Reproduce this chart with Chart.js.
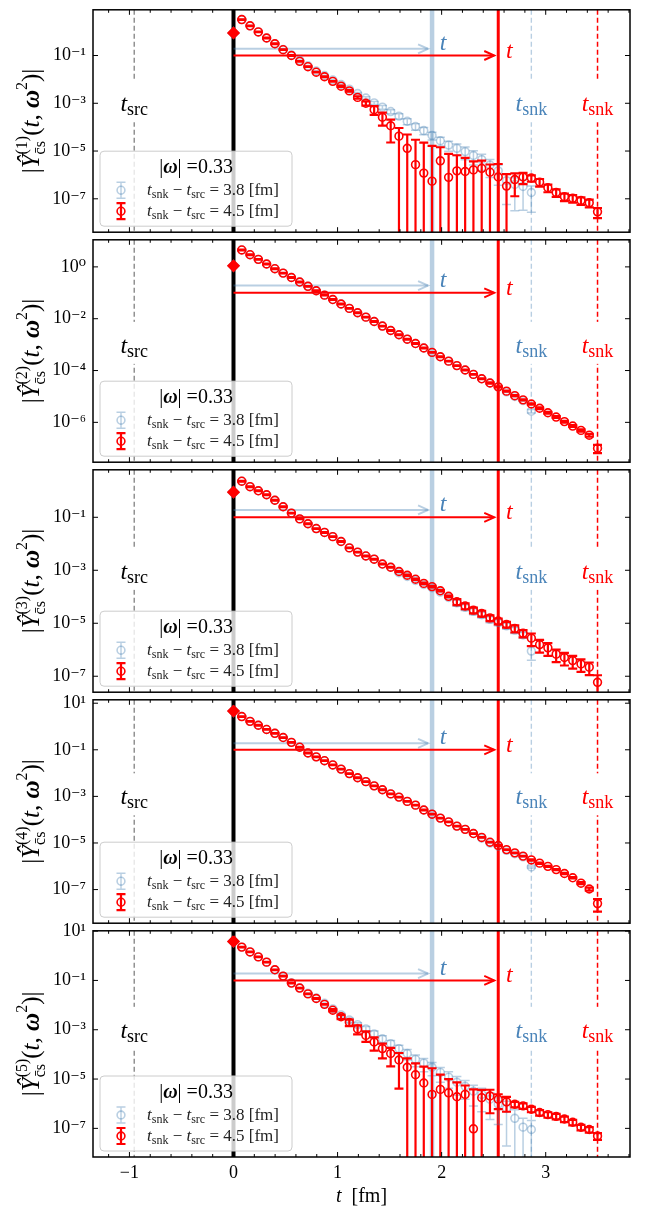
<!DOCTYPE html>
<html>
<head>
<meta charset="utf-8">
<script src="https://cdn.jsdelivr.net/npm/chart.js@4.4.1/dist/chart.umd.min.js"></script>
<style>
  html, body { margin: 0; padding: 0; background: #fff; }
  #wrap { position: relative; width: 646px; height: 1211px; overflow: hidden; }
  #wrap canvas { position: absolute; left: 0; }
</style>
</head>
<body>
<div id="wrap"></div>
<script>
// lattice spacing (fm) and time slices
const A_FM = 0.0795;
const slicesRed = [0,1,2,3,4,5,6,7,8,9,10,11,12,13,14,15,16,17,18,19,20,21,22,23,24,25,26,27,28,29,30,31,32,33,34,35,36,37,38,39,40,41,42,43,44];
const slicesBlue = [0,1,2,3,4,5,6,7,8,9,10,11,12,13,14,15,16,17,18,19,20,21,22,23,24,25,26,27,28,29,30,31,32,33,34,35,36];
const tSrc = -12, tSnkBlue = 36, tSnkRed = 44, tInsBlue = 24, tInsRed = 32;
const arrowBlueY = 0.19, arrowRedY = 0.1, snkLabelY = 7.5e-4;

const xMajor = [-1, 0, 1, 2, 3];
const legendTitle = '0.33';
const legendSep = ['3.8', '4.5'];

// panel 1
const y1Red = [0.88, 3.2, 1.75, 0.97, 0.54, 0.31, 0.175, 0.10, 0.057, 0.034,
  0.020, 0.0129, 8.3e-3, 5.2e-3, 3.3e-3, 1.76e-3, 1.0e-3, 5.4e-4, 2.6e-4, 1.14e-4,
  4.2e-5, 1.3e-5, 2.7e-6, 1.19e-6, 5.5e-7, 3.9e-6, 7.9e-7, 1.48e-6, 1.39e-6, 1.62e-6,
  1.89e-6, 1.30e-6, 8.2e-7, 3.4e-7, 6.4e-7, 8.2e-7, 7.4e-7, 5.0e-7, 2.9e-7, 1.84e-7,
  1.23e-7, 1.05e-7, 8.5e-8, 6.8e-8, 2.85e-8];
const e1Red = [0.05,0.03,0.03,0.03,0.03,0.03,0.03,0.03,0.03,0.03,
  0.03,0.03,0.03,0.06,0.08,0.12,0.2,0.4,0.55,0.8,
  1.2,2.8,10,18,29,2.7,8.7,3.5,2.7,1.3,
  1.1,1.1,2.5,2.2,0.8,0.5,0.3,0.35,0.35,0.35,
  0.35,0.35,0.35,0.35,0.45];
const y1Blue = [0.88, 3.2, 1.75, 0.97, 0.54, 0.31, 0.18, 0.106, 0.063, 0.037,
  0.0225, 0.0146, 9.4e-3, 6.1e-3, 3.9e-3, 2.56e-3, 1.66e-3, 1.04e-3, 6.9e-4, 4.5e-4,
  2.9e-4, 1.77e-4, 1.07e-4, 7.2e-5, 4.5e-5, 2.7e-5, 1.77e-5, 1.30e-5, 9.5e-6, 6.5e-6,
  4.4e-6, 2.6e-6, 1.48e-6, 5.8e-7, 4.0e-7, 3.3e-7, 1.84e-7];
const e1Blue = [0.05,0.03,0.03,0.03,0.03,0.03,0.03,0.03,0.03,0.03,
  0.03,0.03,0.03,0.05,0.07,0.1,0.12,0.15,0.18,0.2,
  0.25,0.28,0.3,0.33,0.35,0.4,0.45,0.5,0.55,0.6,
  0.65,0.7,0.75,0.9,0.92,0.9,0.85];

// panel 2
const y2Red = [1.1, 4.5, 2.95, 1.95, 1.29, 0.85, 0.575, 0.39, 0.26, 0.178,
  0.12, 0.081, 0.055, 0.037, 0.025, 0.017, 0.0115, 7.8e-3, 5.2e-3, 3.5e-3,
  2.4e-3, 1.62e-3, 1.1e-3, 7.4e-4, 5.0e-4, 3.4e-4, 2.3e-4, 1.55e-4, 1.05e-4, 7.1e-5,
  4.8e-5, 3.3e-5, 2.35e-5, 1.6e-5, 1.07e-5, 7.4e-6, 5.1e-6, 3.5e-6, 2.35e-6, 1.6e-6,
  1.07e-6, 7.2e-7, 4.9e-7, 3.2e-7, 1.0e-7];
const e2Red = [0.05,0.03,0.03,0.03,0.03,0.03,0.03,0.03,0.03,0.03,
  0.03,0.03,0.03,0.03,0.03,0.03,0.03,0.03,0.03,0.03,
  0.03,0.03,0.03,0.03,0.03,0.03,0.03,0.03,0.03,0.03,
  0.03,0.05,0.05,0.05,0.05,0.05,0.05,0.08,0.08,0.08,
  0.08,0.08,0.1,0.12,0.35];
const y2Blue = [1.1, 4.5, 2.95, 1.95, 1.29, 0.85, 0.575, 0.39, 0.26, 0.178,
  0.12, 0.081, 0.055, 0.037, 0.025, 0.017, 0.0115, 7.8e-3, 5.2e-3, 3.5e-3,
  2.4e-3, 1.62e-3, 1.1e-3, 7.4e-4, 5.0e-4, 3.4e-4, 2.3e-4, 1.55e-4, 1.05e-4, 7.1e-5,
  4.8e-5, 3.3e-5, 2.35e-5, 1.5e-5, 1.0e-5, 6.9e-6, 2.7e-6];
const e2Blue = [0.05,0.03,0.03,0.03,0.03,0.03,0.03,0.03,0.03,0.03,
  0.03,0.03,0.03,0.03,0.03,0.03,0.03,0.03,0.03,0.03,
  0.03,0.03,0.03,0.03,0.03,0.03,0.03,0.03,0.03,0.03,
  0.03,0.03,0.03,0.05,0.05,0.05,0.15];

// panel 3
const y3Red = [0.89, 2.3, 1.43, 1.0, 0.71, 0.44, 0.25, 0.144, 0.087, 0.057,
  0.0375, 0.0268, 0.0186, 0.0122, 6.98e-3, 4.85e-3, 3.47e-3, 2.62e-3, 1.72e-3, 1.30e-3,
  9.0e-4, 6.5e-4, 4.6e-4, 3.2e-4, 2.42e-4, 1.68e-4, 1.04e-4, 6.5e-5, 4.5e-5, 3.13e-5,
  2.37e-5, 1.60e-5, 1.21e-5, 9.1e-6, 6.4e-6, 4.2e-6, 2.74e-6, 1.57e-6, 1.18e-6, 6.8e-7,
  5.1e-7, 3.9e-7, 2.9e-7, 2.2e-7, 5.9e-8];
const e3Red = [0.05,0.03,0.03,0.03,0.03,0.03,0.03,0.03,0.03,0.03,
  0.03,0.03,0.03,0.03,0.03,0.03,0.03,0.03,0.03,0.03,
  0.03,0.06,0.06,0.06,0.06,0.06,0.06,0.25,0.25,0.25,
  0.25,0.25,0.25,0.25,0.3,0.3,0.5,0.5,0.5,0.5,
  0.5,0.5,0.5,0.5,0.85];
const y3Blue = [0.89, 2.3, 1.43, 1.0, 0.71, 0.44, 0.25, 0.144, 0.087, 0.057,
  0.0375, 0.0268, 0.0186, 0.0122, 6.98e-3, 4.85e-3, 3.47e-3, 2.62e-3, 1.72e-3, 1.30e-3,
  8.1e-4, 5.8e-4, 4.1e-4, 2.9e-4, 2.2e-4, 1.5e-4, 9.4e-5, 5.9e-5, 4.0e-5, 2.8e-5,
  2.1e-5, 1.4e-5, 1.08e-5, 8.0e-6, 5.5e-6, 3.6e-6, 8.9e-7];
const e3Blue = [0.05,0.03,0.03,0.03,0.03,0.03,0.03,0.03,0.03,0.03,
  0.03,0.03,0.03,0.03,0.03,0.03,0.03,0.03,0.03,0.03,
  0.06,0.06,0.06,0.06,0.06,0.06,0.06,0.25,0.25,0.25,
  0.25,0.25,0.25,0.25,0.25,0.25,0.55];

// panel 4
const y4Red = [4.6, 2.67, 1.66, 1.13, 0.746, 0.51, 0.336, 0.209, 0.129, 0.073,
  0.0498, 0.034, 0.0224, 0.0148, 9.5e-3, 6.3e-3, 4.3e-3, 2.83e-3, 1.93e-3, 1.28e-3,
  9.3e-4, 6.1e-4, 4.2e-4, 2.6e-4, 1.72e-4, 1.17e-4, 8.0e-5, 5.3e-5, 3.85e-5, 2.54e-5,
  1.73e-5, 1.08e-5, 7.8e-6, 5.2e-6, 3.76e-6, 2.74e-6, 1.87e-6, 1.36e-6, 9.9e-7, 7.2e-7,
  4.9e-7, 3.2e-7, 1.88e-7, 1.06e-7, 2.5e-8];
const e4Red = [0.05,0.03,0.03,0.03,0.03,0.03,0.03,0.03,0.03,0.03,
  0.03,0.03,0.03,0.03,0.03,0.03,0.03,0.03,0.03,0.03,
  0.03,0.03,0.03,0.03,0.03,0.03,0.03,0.03,0.03,0.03,
  0.03,0.03,0.03,0.03,0.03,0.03,0.06,0.06,0.06,0.06,
  0.06,0.06,0.1,0.15,0.55];
const y4Blue = [4.6, 2.67, 1.66, 1.13, 0.746, 0.51, 0.336, 0.209, 0.129, 0.073,
  0.0498, 0.034, 0.0224, 0.0148, 9.5e-3, 6.3e-3, 4.3e-3, 2.83e-3, 1.93e-3, 1.28e-3,
  9.3e-4, 6.1e-4, 4.2e-4, 2.6e-4, 1.72e-4, 1.17e-4, 8.0e-5, 5.3e-5, 3.85e-5, 2.54e-5,
  1.59e-5, 9.9e-6, 7.2e-6, 4.8e-6, 3.46e-6, 2.52e-6, 9.3e-7];
const e4Blue = [0.05,0.03,0.03,0.03,0.03,0.03,0.03,0.03,0.03,0.03,
  0.03,0.03,0.03,0.03,0.03,0.03,0.03,0.03,0.03,0.03,
  0.03,0.03,0.03,0.03,0.03,0.03,0.03,0.03,0.03,0.03,
  0.03,0.03,0.03,0.03,0.03,0.03,0.1];

// panel 5
const y5Red = [3.8, 2.25, 1.43, 0.90, 0.55, 0.27, 0.15, 0.078, 0.049, 0.0284,
  0.0185, 0.0107, 6.2e-3, 3.35e-3, 1.99e-3, 1.08e-3, 5.9e-4, 3.18e-4, 1.72e-4, 1.09e-4,
  5.9e-5, 3.0e-5, 1.49e-5, 6.9e-6, 2.38e-6, 3.8e-6, 2.77e-6, 1.92e-6, 2.38e-6, 9.6e-8,
  1.75e-6, 2.05e-6, 1.51e-6, 1.18e-6, 9.5e-7, 8.2e-7, 6.0e-7, 4.4e-7, 3.6e-7, 3.07e-7,
  2.4e-7, 1.77e-7, 1.11e-7, 9.0e-8, 4.9e-8];
const e5Red = [0.05,0.03,0.03,0.03,0.03,0.03,0.03,0.03,0.03,0.03,
  0.03,0.03,0.1,0.2,0.3,0.4,0.45,0.55,0.6,0.7,
  0.93,1.3,1.9,3.6,10.5,3,2.6,2.8,1.3,39,
  1.1,0.8,0.6,0.6,0.25,0.25,0.25,0.25,0.25,0.25,
  0.25,0.25,0.25,0.25,0.3];
const y5Blue = [3.8, 2.25, 1.43, 0.90, 0.55, 0.27, 0.15, 0.08, 0.05, 0.03,
  0.0195, 0.0118, 7.0e-3, 4.0e-3, 2.47e-3, 1.61e-3, 1.08e-3, 6.8e-4, 4.3e-4, 2.72e-4,
  1.72e-4, 1.09e-4, 6.3e-5, 4.4e-5, 3.0e-5, 1.85e-5, 1.2e-5, 7.4e-6, 5.1e-6, 3.2e-6,
  2.38e-6, 1.51e-6, 9.5e-7, 6.4e-7, 2.56e-7, 1.12e-7, 9.0e-8];
const e5Blue = [0.05,0.03,0.03,0.03,0.03,0.03,0.03,0.03,0.03,0.03,
  0.03,0.03,0.03,0.15,0.18,0.2,0.25,0.3,0.33,0.35,
  0.38,0.45,0.5,0.55,0.55,0.6,0.65,0.7,0.7,0.75,
  0.8,0.85,0.85,0.97,1.2,1.3,1.3];

const panels = [
  { n: '1', red: y1Red, redErr: e1Red, blue: y1Blue, blueErr: e1Blue, ymin: 4.0e-9, ymax: 8.2, labeled: [-1, -3, -5, -7] },
  { n: '2', red: y2Red, redErr: e2Red, blue: y2Blue, blueErr: e2Blue, ymin: 2.9e-8, ymax: 11.1, labeled: [0, -2, -4, -6] },
  { n: '3', red: y3Red, redErr: e3Red, blue: y3Blue, blueErr: e3Blue, ymin: 2.5e-8, ymax: 6.2, labeled: [-1, -3, -5, -7] },
  { n: '4', red: y4Red, redErr: e4Red, blue: y4Blue, blueErr: e4Blue, ymin: 3.6e-9, ymax: 14, labeled: [1, -1, -3, -5, -7] },
  { n: '5', red: y5Red, redErr: e5Red, blue: y5Blue, blueErr: e5Blue, ymin: 6.9e-9, ymax: 10.3, labeled: [1, -1, -3, -5, -7] }
];

const SERIF = '"Liberation Serif", "DejaVu Serif", serif';
const RED = '#ff0000';
const BLUE_MARK = 'rgba(70,130,180,0.38)';
const BLUE_TEXT = '#4a84b9';
const GRAY = '#808080';
const panelTop = [6, 236, 466, 696, 927];
const panelBottom = [236, 466, 696, 927, 1157];
const PAD = 14;

const SUP = { '-': '\u207B', '0': '\u2070', '1': '\u00B9', '2': '\u00B2', '3': '\u00B3', '4': '\u2074', '5': '\u2075', '6': '\u2076', '7': '\u2077', '8': '\u2078', '9': '\u2079' };
function powLabel(e) { return '10' + String(e).split('').map(c => SUP[c]).join(''); }

// text made of runs with different size / style / offset
function layoutRuns(ctx, runs) {
  let x = 0, prevStart = 0, prevW = 0;
  const pos = [];
  runs.forEach(r => {
    ctx.font = `${r.st || ''} ${r.px}px ${SERIF}`;
    const w = ctx.measureText(r.s).width;
    if (r.stack) {
      pos.push(prevStart);
      prevW = Math.max(prevW, w);
      x = prevStart + prevW;
    } else {
      pos.push(x); prevStart = x; prevW = w; x += w;
    }
  });
  return { pos, width: x };
}
function drawRuns(ctx, runs, x, y, align, color) {
  const L = layoutRuns(ctx, runs);
  const x0 = align === 'center' ? x - L.width / 2 : (align === 'right' ? x - L.width : x);
  ctx.fillStyle = color || '#000';
  ctx.textAlign = 'left';
  ctx.textBaseline = 'alphabetic';
  runs.forEach((r, i) => {
    ctx.font = `${r.st || ''} ${r.px}px ${SERIF}`;
    ctx.fillText(r.s, x0 + L.pos[i], y + (r.dy || 0));
  });
  return L.width;
}
const tSub = sub => [{ s: 't', px: 24, st: 'italic' }, { s: sub, px: 18, dy: 4 }];

function errMarker(ctx, x, y, color, lw) {
  ctx.strokeStyle = color; ctx.lineWidth = lw;
  ctx.beginPath();
  ctx.moveTo(x, y - 8); ctx.lineTo(x, y + 8);
  ctx.moveTo(x - 4.5, y - 8); ctx.lineTo(x + 4.5, y - 8);
  ctx.moveTo(x - 4.5, y + 8); ctx.lineTo(x + 4.5, y + 8);
  ctx.stroke();
  ctx.lineWidth = 1.6;
  ctx.beginPath(); ctx.arc(x, y, 3.9, 0, Math.PI * 2); ctx.stroke();
}

function makeDecor(p, idx, isLast) {
  return {
    id: 'decor' + idx,
    beforeDatasetsDraw(chart) {
      const { ctx, chartArea: ca, scales: { x, y } } = chart;
      ctx.save();
      ctx.beginPath(); ctx.rect(ca.left, ca.top, ca.right - ca.left, ca.bottom - ca.top); ctx.clip();
      const vline = (t, color, lw, dash) => {
        const px = x.getPixelForValue(t);
        ctx.strokeStyle = color; ctx.lineWidth = lw; ctx.setLineDash(dash || []);
        ctx.beginPath(); ctx.moveTo(px, ca.top); ctx.lineTo(px, ca.bottom); ctx.stroke();
      };
      vline(tSrc * A_FM, GRAY, 1.3, [5, 3]);
      vline(tSnkBlue * A_FM, BLUE_MARK, 1.4, [5, 3]);
      vline(tSnkRed * A_FM, RED, 1.5, [5, 3]);
      vline(0, '#000', 4);
      vline(tInsBlue * A_FM, BLUE_MARK, 4.5);
      vline(tInsRed * A_FM, RED, 3);
      ctx.setLineDash([]);

      const arrow = (tEnd, val, color, lw) => {
        const x0 = x.getPixelForValue(0), x1 = x.getPixelForValue(tEnd) - 4, py = y.getPixelForValue(val);
        ctx.strokeStyle = color; ctx.lineWidth = lw;
        ctx.beginPath(); ctx.moveTo(x0, py); ctx.lineTo(x1, py); ctx.stroke();
        ctx.beginPath(); ctx.moveTo(x1 - 10, py - 4.5); ctx.lineTo(x1, py); ctx.lineTo(x1 - 10, py + 4.5); ctx.stroke();
      };
      arrow(tInsBlue * A_FM, arrowBlueY, BLUE_MARK, 2);
      arrow(tInsRed * A_FM, arrowRedY, RED, 2);

      // t labels next to the insertion lines
      drawRuns(ctx, [{ s: 't', px: 24, st: 'italic' }], x.getPixelForValue(tInsBlue * A_FM) + 11, y.getPixelForValue(arrowBlueY) + 1, 'center', BLUE_TEXT);
      drawRuns(ctx, [{ s: 't', px: 24, st: 'italic' }], x.getPixelForValue(tInsRed * A_FM) + 11, y.getPixelForValue(arrowRedY) + 2, 'center', RED);

      // source / sink labels on white boxes
      const ly = y.getPixelForValue(snkLabelY);
      const boxLabel = (t, sub, color) => {
        const px = x.getPixelForValue(t);
        ctx.fillStyle = '#fff';
        ctx.fillRect(px - 20, ly - 26, 40, 42);
        drawRuns(ctx, tSub(sub), px, ly + 5, 'center', color);
      };
      boxLabel(tSrc * A_FM, 'src', '#000');
      boxLabel(tSnkBlue * A_FM, 'snk', BLUE_TEXT);
      boxLabel(tSnkRed * A_FM, 'snk', RED);
      ctx.restore();
    },
    beforeDatasetDraw(chart, args) {
      const { ctx, chartArea: ca, scales: { y } } = chart;
      const ds = chart.data.datasets[args.index];
      ctx.save();
      ctx.beginPath(); ctx.rect(ca.left, ca.top, ca.right - ca.left, ca.bottom - ca.top); ctx.clip();
      ctx.strokeStyle = ds.borderColor; ctx.lineWidth = ds.errWidth;
      args.meta.data.forEach((pt, i) => {
        const d = ds.data[i];
        const hi = y.getPixelForValue(d.y + d.e);
        const lowVal = d.y - d.e;
        const lo = lowVal > 0 ? y.getPixelForValue(lowVal) : ca.bottom + 10;
        ctx.beginPath();
        ctx.moveTo(pt.x, hi); ctx.lineTo(pt.x, lo);
        ctx.moveTo(pt.x - 4.5, hi); ctx.lineTo(pt.x + 4.5, hi);
        if (lowVal > 0) { ctx.moveTo(pt.x - 4.5, lo); ctx.lineTo(pt.x + 4.5, lo); }
        ctx.stroke();
      });
      ctx.restore();
    },
    afterDatasetsDraw(chart) {
      const { ctx, chartArea: ca } = chart;
      const B = ca.bottom;
      ctx.save();
      ctx.beginPath();
      ctx.roundRect(100, B - 81, 192, 75, 4);
      ctx.fillStyle = 'rgba(255,255,255,0.8)'; ctx.fill();
      ctx.strokeStyle = '#cccccc'; ctx.lineWidth = 1; ctx.stroke();
      drawRuns(ctx, [{ s: '|', px: 20 }, { s: '\u03C9', px: 20, st: 'bold italic' }, { s: '| =' + legendTitle, px: 20 }], 196, B - 59, 'center', '#000');
      const entry = (yy, sep, color, lw) => {
        errMarker(ctx, 121, yy, color, lw);
        drawRuns(ctx, [
          { s: 't', px: 17, st: 'italic' }, { s: 'snk', px: 12, dy: 3 },
          { s: ' \u2212 ', px: 17 },
          { s: 't', px: 17, st: 'italic' }, { s: 'src', px: 12, dy: 3 },
          { s: ' = ' + sep + ' [fm]', px: 17 }
        ], 147, yy + 5, 'left', '#222');
      };
      entry(B - 42, legendSep[0], BLUE_MARK, 1.4);
      entry(B - 21, legendSep[1], RED, 2.2);
      ctx.restore();
    },
    afterDraw(chart) {
      const { ctx, chartArea: ca, scales: { x, y } } = chart;
      ctx.save();
      ctx.strokeStyle = '#000'; ctx.lineWidth = 1.5;
      ctx.strokeRect(ca.left, ca.top, ca.right - ca.left, ca.bottom - ca.top);
      ctx.lineWidth = 1;
      ctx.beginPath();
      for (let k = -6; k <= 19; k++) {
        const v = k / 5;
        if (v < x.min || v > x.max) continue;
        const px = x.getPixelForValue(v);
        const len = (k % 5 === 0) ? 5 : 3;
        ctx.moveTo(px, ca.bottom); ctx.lineTo(px, ca.bottom - len);
        ctx.moveTo(px, ca.top); ctx.lineTo(px, ca.top + len);
      }
      p.labeled.forEach(e => {
        const py = y.getPixelForValue(Math.pow(10, e));
        ctx.moveTo(ca.left, py); ctx.lineTo(ca.left + 5, py);
        ctx.moveTo(ca.right, py); ctx.lineTo(ca.right - 5, py);
      });
      ctx.stroke();

      // rotated y-axis title
      ctx.translate(39, (ca.top + ca.bottom) / 2);
      ctx.rotate(-Math.PI / 2);
      drawRuns(ctx, [
        { s: '|', px: 25 },
        { s: '\u0176', px: 25, st: 'italic' },
        { s: '(' + p.n + ')', px: 16, dy: -12 },
        { s: 'c\u0304s', px: 16, dy: 6, stack: true },
        { s: '(', px: 25 }, { s: 't', px: 25, st: 'italic' }, { s: ', ', px: 25 },
        { s: '\u03C9', px: 25, st: 'bold italic' }, { s: '2', px: 16, dy: -12 },
        { s: ')|', px: 25 }
      ], 0, 0, 'center', '#000');
      ctx.setTransform(1, 0, 0, 1, 0, 0);
      if (isLast) {
        drawRuns(ctx, [{ s: 't', px: 20, st: 'italic' }, { s: '  [fm]', px: 20 }], (ca.left + ca.right) / 2, 1202 - panelTop[4] + PAD, 'center', '#000');
      }
      ctx.restore();
    }
  };
}

const wrap = document.getElementById('wrap');
panels.forEach((p, i) => {
  const isLast = i === panels.length - 1;
  const top = panelTop[i] - PAD;
  const h = isLast ? 1211 - top : (panelBottom[i] - panelTop[i]) + 2 * PAD;
  const cv = document.createElement('canvas');
  cv.width = 646; cv.height = h;
  cv.style.top = top + 'px'; cv.style.width = '646px'; cv.style.height = h + 'px';
  wrap.appendChild(cv);

  const mk = (slices, vals, errs) => slices.map((s, k) => ({ x: s * A_FM, y: vals[k], e: vals[k] * errs[k] }));
  const styled = (color, lw) => ({
    borderColor: color,
    errWidth: lw,
    pointRadius: ctx => ctx.dataIndex === 0 ? 5.5 : 3.9,
    pointBorderWidth: 1.6,
    pointStyle: ctx => ctx.dataIndex === 0 ? 'rectRot' : 'circle',
    pointBackgroundColor: ctx => ctx.dataIndex === 0 ? color : 'rgba(0,0,0,0)',
    pointBorderColor: color,
    showLine: false
  });

  new Chart(cv.getContext('2d'), {
    type: 'scatter',
    data: {
      datasets: [
        Object.assign({ label: 't_snk - t_src = 4.5 [fm]', data: mk(slicesRed, p.red, p.redErr) }, styled(RED, 2.2)),
        Object.assign({ label: 't_snk - t_src = 3.8 [fm]', data: mk(slicesBlue, p.blue, p.blueErr) }, styled(BLUE_MARK, 1.5))
      ]
    },
    options: {
      responsive: false,
      animation: false,
      devicePixelRatio: 1,
      layout: { padding: { top: PAD, bottom: isLast ? 0 : PAD, left: 0, right: 16 } },
      plugins: { legend: { display: false }, tooltip: { enabled: false } },
      scales: {
        x: {
          type: 'linear', min: -1.35, max: 3.81, display: isLast,
          grid: { display: false, drawTicks: false }, border: { display: false },
          afterBuildTicks: s => { s.ticks = xMajor.map(v => ({ value: v })); },
          afterFit: s => { s.height = isLast ? 54 : 0; },
          ticks: {
            autoSkip: false, maxRotation: 0, padding: 5, color: '#000',
            font: { family: SERIF, size: 18 },
            callback: v => v < 0 ? '\u2212' + Math.abs(v) : String(v)
          }
        },
        y: {
          type: 'logarithmic', min: p.ymin, max: p.ymax,
          grid: { display: false, drawTicks: false }, border: { display: false },
          afterBuildTicks: s => { s.ticks = p.labeled.map(e => ({ value: Math.pow(10, e) })); },
          afterFit: s => { s.width = 93; },
          ticks: {
            autoSkip: false, padding: 7, color: '#000',
            font: { family: SERIF, size: 18 },
            callback: v => powLabel(Math.round(Math.log10(v)))
          }
        }
      }
    },
    plugins: [makeDecor(p, i, isLast)]
  });
});
</script>
</body>
</html>
